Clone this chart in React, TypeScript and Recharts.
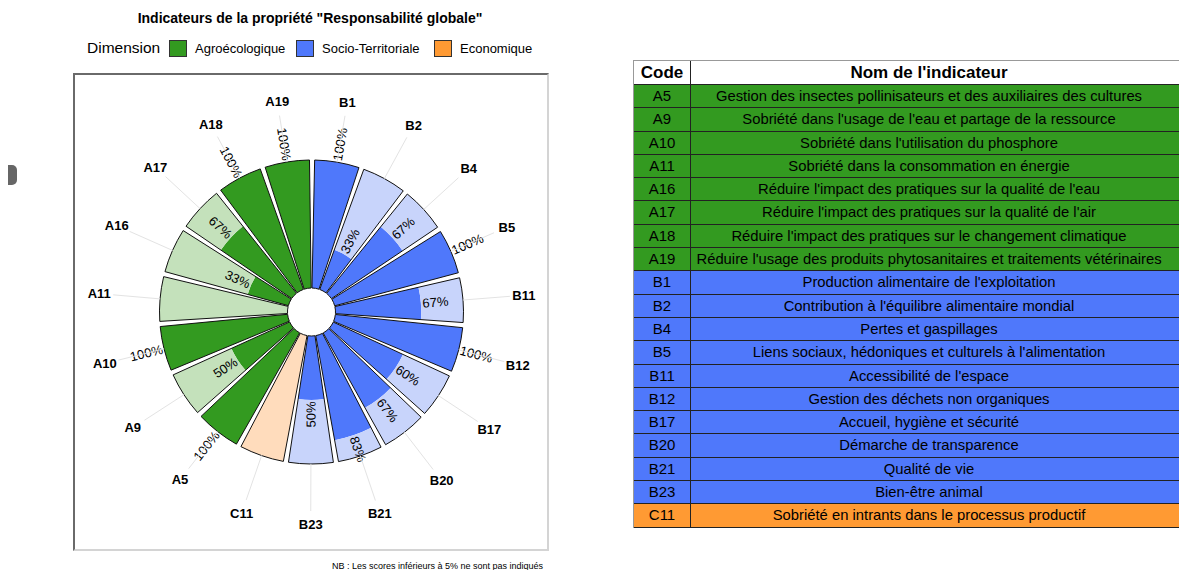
import { RadialBarChart, RadialBar, PolarAngleAxis, PolarRadiusAxis, Cell, LabelList } from 'recharts';

// table order
const codes = ['A5', 'A9', 'A10', 'A11', 'A16', 'A17', 'A18', 'A19', 'B1', 'B2', 'B4', 'B5', 'B11', 'B12', 'B17', 'B20', 'B21', 'B23', 'C11'];
const names = [
  'Gestion des insectes pollinisateurs et des auxiliaires des cultures',
  "Sobriété dans l'usage de l'eau et partage de la ressource",
  "Sobriété dans l'utilisation du phosphore",
  'Sobriété dans la consommation en énergie',
  "Réduire l'impact des pratiques sur la qualité de l'eau",
  "Réduire l'impact des pratiques sur la qualité de l'air",
  "Réduire l'impact des pratiques sur le changement climatique",
  "Réduire l'usage des produits phytosanitaires et traitements vétérinaires",
  "Production alimentaire de l'exploitation",
  "Contribution à l'équilibre alimentaire mondial",
  'Pertes et gaspillages',
  "Liens sociaux, hédoniques et culturels à l'alimentation",
  "Accessibilité de l'espace",
  'Gestion des déchets non organiques',
  'Accueil, hygiène et sécurité',
  'Démarche de transparence',
  'Qualité de vie',
  'Bien-être animal',
  'Sobriété en intrants dans le processus productif',
];
const dims = [0, 0, 0, 0, 0, 0, 0, 0, 1, 1, 1, 1, 1, 1, 1, 1, 1, 1, 2];
const scores = [100, 50, 100, 0, 33, 67, 100, 100, 100, 33, 67, 100, 67, 100, 60, 67, 83, 50, 0];

// clockwise from the top of the wheel
const wheelOrder = ['B1', 'B2', 'B4', 'B5', 'B11', 'B12', 'B17', 'B20', 'B21', 'B23', 'C11', 'A5', 'A9', 'A10', 'A11', 'A16', 'A17', 'A18', 'A19'];

const dimNames = ['Agroécologique', 'Socio-Territoriale', 'Economique'];
const dark = ['#339a20', '#4f78fb', '#ff9a33'];
const light = ['#c4e1bb', '#c8d4fb', '#ffdcbc'];
const rowColors = ['#339a20', '#4f78fb', '#ff9a33'];

const wheelData = wheelOrder.map((code) => {
  const i = codes.indexOf(code);
  return { code, dim: dims[i], score: scores[i], rest: 100 - scores[i], full: 100 };
});

const FONT = '"Liberation Sans", Arial, Helvetica, sans-serif';
const W = 472;
const H = 474;
const CX = 236.5;
const CY = 237;
// recharts puts the first band one step counter-clockwise, so start one step earlier
const START = 90 - 360 / wheelData.length;

const polar = (cx: number, cy: number, r: number, deg: number) => {
  const rad = (deg * Math.PI) / 180;
  return { x: cx + r * Math.cos(rad), y: cy - r * Math.sin(rad) };
};

const PctLabel = (props: any) => {
  const { viewBox, value } = props;
  if (!viewBox || value == null || value < 5) return null;
  const { cx, cy, outerRadius, startAngle, endAngle } = viewBox;
  const mid = (startAngle + endAngle) / 2;
  const p = polar(cx, cy, outerRadius + 1.5, mid);
  const right = Math.cos((mid * Math.PI) / 180) > -1e-6;
  const rot = right ? -mid : 180 - mid;
  return (
    <text
      x={p.x}
      y={p.y}
      transform={`rotate(${rot} ${p.x} ${p.y})`}
      textAnchor={right ? 'start' : 'end'}
      dominantBaseline="central"
      fontSize={13}
      fontFamily={FONT}
      fill="#000"
      stroke="none"
    >
      {value}%
    </text>
  );
};

const CodeLabel = (props: any) => {
  const { viewBox, value } = props;
  if (!viewBox) return null;
  const { cx, cy, outerRadius, startAngle, endAngle } = viewBox;
  const mid = (startAngle + endAngle) / 2;
  const a = polar(cx, cy, outerRadius, mid);
  const b = polar(cx, cy, outerRadius + 47, mid);
  const t = polar(cx, cy, outerRadius + 61, mid);
  return (
    <g>
      <line x1={a.x} y1={a.y} x2={b.x} y2={b.y} stroke="#e3e3e3" strokeWidth={1} />
      <text x={t.x} y={t.y} textAnchor="middle" dominantBaseline="central" fontSize={13} fontWeight="bold" fontFamily={FONT} fill="#000" stroke="none">
        {value}
      </text>
    </g>
  );
};

function Wheel({ outline }: { outline: boolean }) {
  return (
    <RadialBarChart
      width={W}
      height={H}
      cx={CX}
      cy={CY}
      innerRadius={24}
      outerRadius={152}
      startAngle={START}
      endAngle={START - 360}
      layout="centric"
      data={wheelData}
      barCategoryGap="4%"
      margin={{ top: 0, right: 0, bottom: 0, left: 0 }}
    >
      <PolarAngleAxis type="category" dataKey="code" tick={false} axisLine={false} tickLine={false} />
      <PolarRadiusAxis type="number" domain={[0, 100]} tick={false} axisLine={false} tickLine={false} />
      {outline ? (
        <RadialBar dataKey="full" fill="none" stroke="#111" strokeWidth={1} isAnimationActive={false}>
          <LabelList dataKey="code" content={CodeLabel} />
        </RadialBar>
      ) : null}
      {!outline ? (
        <RadialBar dataKey="score" stackId="s" stroke="none" isAnimationActive={false}>
          {wheelData.map((d) => (
            <Cell key={d.code} fill={dark[d.dim]} />
          ))}
          <LabelList dataKey="score" content={PctLabel} />
        </RadialBar>
      ) : null}
      {!outline ? (
        <RadialBar dataKey="rest" stackId="s" stroke="none" isAnimationActive={false}>
          {wheelData.map((d) => (
            <Cell key={d.code} fill={light[d.dim]} />
          ))}
        </RadialBar>
      ) : null}
    </RadialBarChart>
  );
}

const legendX = [169, 296, 434];
const legendTextX = [195, 322, 460];

export default function App() {
  return (
    <div style={{ position: 'fixed', left: 0, top: 0, width: 1179, height: 570, overflow: 'hidden', background: '#fff', fontFamily: FONT, color: '#000' }}>
      <div style={{ position: 'absolute', left: 8, top: 165, width: 9, height: 20, background: '#666', borderRadius: '0 5px 5px 0' }} />

      <div style={{ position: 'absolute', left: 0, width: 620, top: 10, textAlign: 'center', fontSize: 14, fontWeight: 'bold', lineHeight: '16px' }}>
        Indicateurs de la propriété "Responsabilité globale"
      </div>

      <div style={{ position: 'absolute', left: 87, top: 39, fontSize: 15.5, lineHeight: '18px' }}>Dimension</div>
      {dimNames.map((n, i) => (
        <div key={n}>
          <div
            style={{
              position: 'absolute',
              left: legendX[i],
              top: 40,
              width: 18,
              height: 17,
              boxSizing: 'border-box',
              background: dark[i],
              border: '1px solid #333',
            }}
          />
          <div style={{ position: 'absolute', left: legendTextX[i], top: 40, fontSize: 13, lineHeight: '17px' }}>{n}</div>
        </div>
      ))}

      <div
        style={{
          position: 'absolute',
          left: 73,
          top: 73,
          width: 476,
          height: 478,
          boxSizing: 'border-box',
          borderTop: '2px solid #6a6a6a',
          borderLeft: '2px solid #6a6a6a',
          borderRight: '2px solid #d4d4d4',
          borderBottom: '2px solid #d4d4d4',
        }}
      >
        <div style={{ position: 'absolute', left: 0, top: 0 }}>
          <Wheel outline={false} />
        </div>
        <div style={{ position: 'absolute', left: 0, top: 0 }}>
          <Wheel outline={true} />
        </div>
      </div>

      <div style={{ position: 'absolute', left: 332, top: 560, fontSize: 9, lineHeight: '12px', whiteSpace: 'nowrap' }}>
        NB : Les scores inférieurs à 5% ne sont pas indiqués
      </div>

      <div style={{ position: 'absolute', left: 633, top: 60, width: 556, borderLeft: '1px solid #999', borderTop: '1px solid #999' }}>
        <div style={{ display: 'flex', height: 24, boxSizing: 'border-box', borderBottom: '1px solid #222', background: '#fff' }}>
          <div style={{ width: 56, borderRight: '1px solid #222', textAlign: 'center', fontWeight: 'bold', fontSize: 17, lineHeight: '23px' }}>Code</div>
          <div style={{ width: 472, paddingLeft: 4, boxSizing: 'border-box', textAlign: 'center', fontWeight: 'bold', fontSize: 17, lineHeight: '23px' }}>Nom de l'indicateur</div>
        </div>
        {codes.map((c, i) => (
          <div key={c} style={{ display: 'flex', height: 23.3, boxSizing: 'border-box', borderBottom: '1px solid #222', background: rowColors[dims[i]] }}>
            <div style={{ width: 56, borderRight: '1px solid #222', textAlign: 'center', fontSize: 15, lineHeight: '22px' }}>{c}</div>
            <div style={{ width: 472, paddingLeft: 4, boxSizing: 'border-box', textAlign: 'center', fontSize: 14.8, lineHeight: '22px', whiteSpace: 'nowrap' }}>{names[i]}</div>
          </div>
        ))}
      </div>
    </div>
  );
}
